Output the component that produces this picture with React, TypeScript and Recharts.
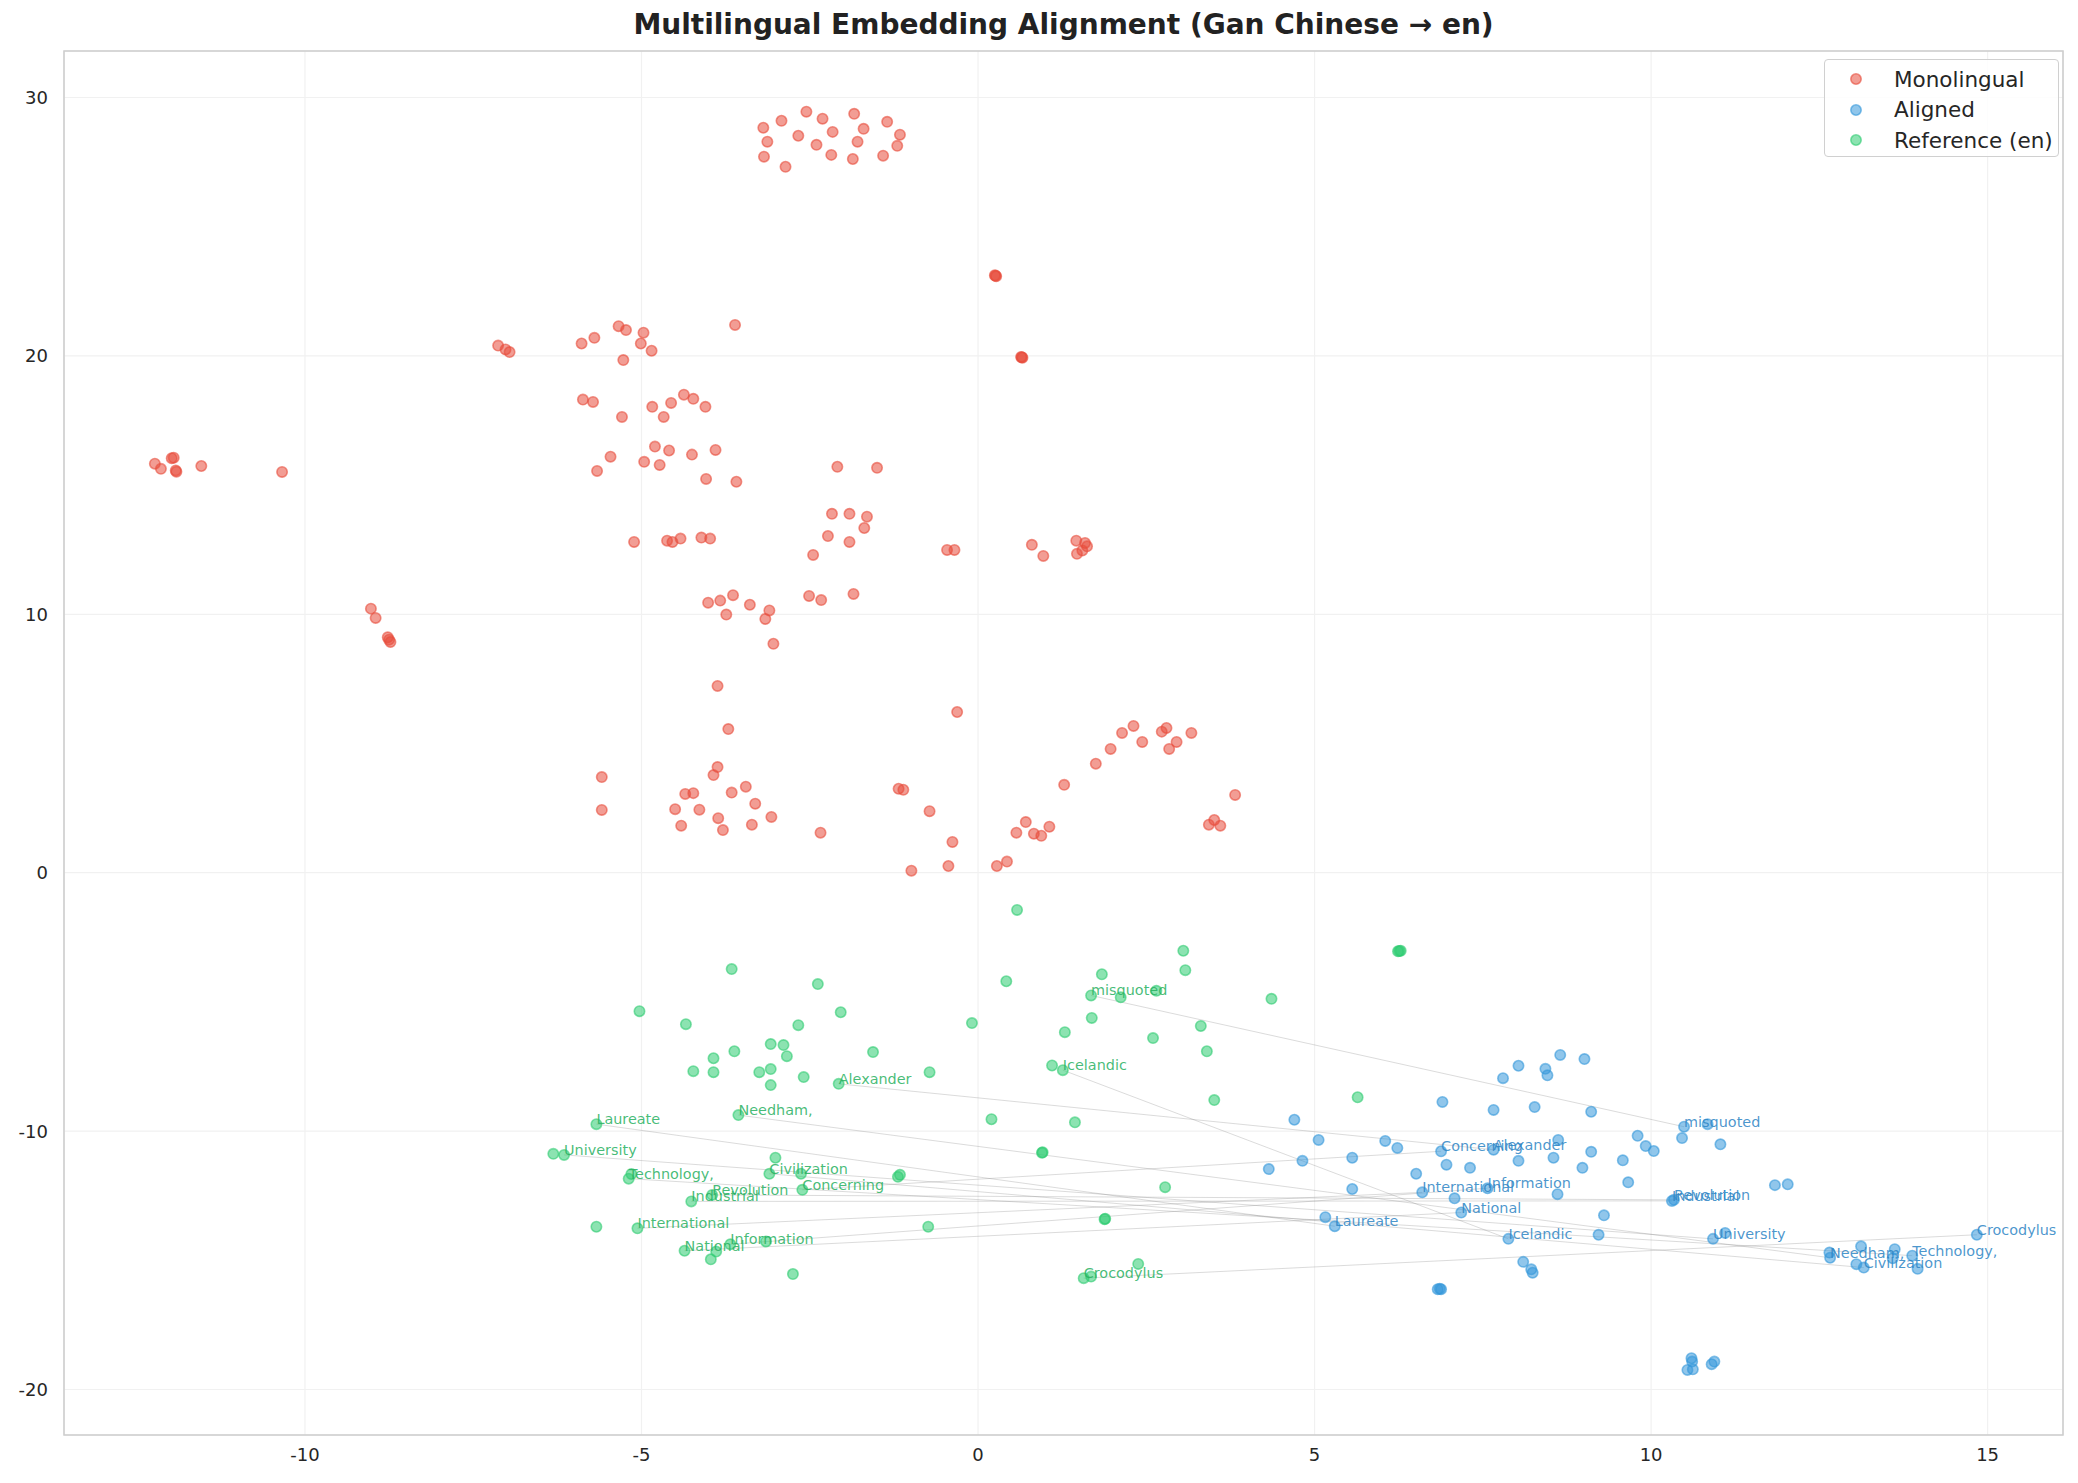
import {
  ScatterChart,
  Scatter,
  XAxis,
  YAxis,
  CartesianGrid,
  ReferenceLine,
  ReferenceArea,
  Legend,
} from 'recharts';

// Monolingual (Gan Chinese) embeddings, [x, y]
const monolingualPoints: [number, number][] = [
  [-3.19, 28.83], [-2.92, 29.1], [-2.55, 29.45], [-2.31, 29.18], [-1.84, 29.37], [-1.35, 29.06],
  [-3.13, 28.29], [-2.67, 28.52], [-2.16, 28.67], [-1.7, 28.79], [-1.16, 28.56], [-2.4, 28.17],
  [-1.79, 28.29], [-1.2, 28.13], [-3.18, 27.71], [-2.18, 27.78], [-1.86, 27.62], [-1.41, 27.75],
  [-2.86, 27.32],
  [0.26, 23.1], [0.27, 23.08], [0.25, 23.12], [0.65, 19.95], [0.66, 19.93], [0.64, 19.96],
  [-3.61, 21.2], [-7.13, 20.4], [-7.02, 20.25], [-6.96, 20.15], [-5.89, 20.48], [-5.7, 20.7],
  [-5.34, 21.15], [-5.23, 21.0], [-4.97, 20.9], [-5.01, 20.48], [-4.85, 20.2], [-5.27, 19.84],
  [-5.87, 18.31], [-5.72, 18.22], [-5.29, 17.64], [-4.84, 18.03], [-4.67, 17.64], [-4.56, 18.18],
  [-4.37, 18.5], [-4.23, 18.34], [-4.05, 18.03],
  [-4.8, 16.49], [-4.59, 16.34], [-4.25, 16.18], [-3.9, 16.36], [-5.46, 16.1], [-5.66, 15.55],
  [-4.96, 15.9], [-4.73, 15.78], [-4.04, 15.24], [-3.59, 15.13], [-2.09, 15.71], [-1.5, 15.67],
  [-12.23, 15.83], [-12.14, 15.63], [-11.98, 16.04], [-11.95, 16.06], [-11.92, 15.57], [-11.91, 15.52],
  [-11.54, 15.74], [-10.34, 15.51],
  [-2.17, 13.89], [-1.91, 13.89], [-1.65, 13.78], [-1.69, 13.34], [-2.23, 13.03], [-1.91, 12.8],
  [-2.45, 12.3], [-0.46, 12.49], [-0.35, 12.49], [0.8, 12.69], [0.97, 12.26], [1.46, 12.85],
  [1.59, 12.76], [1.62, 12.63], [1.55, 12.47], [1.47, 12.34],
  [-5.11, 12.8], [-4.62, 12.85], [-4.54, 12.8], [-4.42, 12.93], [-4.11, 12.97], [-3.98, 12.93],
  [-4.01, 10.45], [-3.83, 10.53], [-3.64, 10.74], [-3.39, 10.37], [-3.1, 10.15], [-3.16, 9.82],
  [-3.74, 9.99], [-3.04, 8.86], [-2.51, 10.71], [-2.33, 10.55], [-1.85, 10.79],
  [-9.02, 10.22], [-8.95, 9.86], [-8.77, 9.11], [-8.75, 9.02], [-8.73, 8.93],
  [-3.87, 7.23], [-3.71, 5.56], [-3.87, 4.09], [-3.93, 3.78], [-5.59, 3.7], [-5.59, 2.43],
  [-4.35, 3.05], [-4.23, 3.08], [-3.66, 3.1], [-3.45, 3.33], [-3.31, 2.67], [-4.5, 2.46],
  [-4.14, 2.44], [-3.86, 2.11], [-3.07, 2.16], [-4.41, 1.82], [-3.79, 1.65], [-3.36, 1.86],
  [-2.34, 1.55],
  [-1.18, 3.25], [-1.11, 3.21], [-0.31, 6.22], [-0.72, 2.38], [-0.38, 1.19], [-0.99, 0.08],
  [-0.44, 0.26], [0.28, 0.26], [0.43, 0.43], [0.57, 1.55], [0.71, 1.96], [0.83, 1.51],
  [0.94, 1.43], [1.06, 1.78], [1.28, 3.4], [1.75, 4.22], [1.97, 4.79],
  [2.14, 5.41], [2.31, 5.68], [2.44, 5.06], [2.73, 5.46], [2.8, 5.6], [2.95, 5.06],
  [2.84, 4.79], [3.17, 5.41], [3.82, 3.01], [3.43, 1.86], [3.51, 2.04], [3.6, 1.82],
];

// Aligned embeddings
const alignedPoints: [number, number][] = [
  [4.7, -9.56], [5.06, -10.34], [4.32, -11.47], [4.82, -11.15], [5.56, -11.03], [5.56, -12.24],
  [6.05, -10.38], [6.23, -10.65], [6.51, -11.65], [6.6, -12.37], [6.88, -10.78], [6.96, -11.3],
  [7.31, -11.42], [7.08, -12.6], [7.18, -13.15], [7.57, -12.21], [7.66, -10.72], [8.03, -11.15],
  [6.9, -8.87], [7.66, -9.18], [7.8, -7.95], [8.03, -7.47], [8.27, -9.07], [8.43, -7.59],
  [8.46, -7.84], [8.65, -7.05], [9.01, -7.21], [9.11, -9.25], [8.62, -10.34], [8.55, -11.03],
  [9.11, -10.8], [8.98, -11.42], [8.61, -12.44], [9.58, -11.13], [9.66, -11.98], [9.8, -10.18],
  [9.92, -10.58], [10.04, -10.77], [10.46, -10.27], [10.49, -9.83], [10.84, -9.73], [11.03, -10.51],
  [9.3, -13.26], [9.22, -14.01], [10.31, -12.7], [10.34, -12.66], [5.16, -13.33], [5.3, -13.68],
  [7.88, -14.17], [8.1, -15.06], [8.22, -15.35], [8.24, -15.48], [6.83, -16.12], [6.88, -16.12],
  [6.86, -16.1],
  [11.84, -12.09], [12.03, -12.06], [10.92, -14.17], [11.1, -13.94], [14.84, -14.01], [12.65, -14.7],
  [12.66, -14.9], [13.12, -14.46], [13.62, -14.57], [13.59, -14.92], [13.88, -14.82], [13.05, -15.15],
  [13.16, -15.28], [13.96, -15.33],
  [10.6, -18.79], [10.61, -18.92], [10.54, -19.24], [10.62, -19.22], [10.94, -18.92], [10.9, -19.02],
];

// Reference (en) embeddings
const referencePoints: [number, number][] = [
  [0.58, -1.44], [-3.66, -3.73], [-2.38, -4.31], [-5.03, -5.36], [-4.34, -5.86], [-2.67, -5.9],
  [-2.04, -5.4], [-3.62, -6.91], [-3.93, -7.18], [-4.23, -7.68], [-3.93, -7.72], [-3.08, -6.63],
  [-2.89, -6.67], [-2.84, -7.1], [-3.25, -7.72], [-3.08, -7.6], [-3.08, -8.22], [-2.59, -7.91],
  [-1.56, -6.94], [-2.07, -8.17], [-0.72, -7.72], [-0.09, -5.82], [0.42, -4.2], [1.84, -3.93],
  [1.68, -4.75], [2.12, -4.82], [2.65, -4.57], [3.05, -3.02], [3.08, -3.77], [4.36, -4.88],
  [1.69, -5.62], [1.29, -6.17], [3.31, -5.93], [2.6, -6.4], [3.4, -6.91], [1.1, -7.46],
  [1.26, -7.64], [3.51, -8.8], [0.2, -9.54], [1.44, -9.66], [-3.56, -9.38], [-5.67, -9.73],
  [0.95, -10.84], [0.96, -10.82], [-6.31, -10.88], [-6.15, -10.92], [-3.01, -11.03], [-3.1, -11.65],
  [-2.63, -11.65], [-2.61, -12.27], [-1.19, -11.77], [-1.16, -11.69], [-5.19, -11.84], [-5.15, -11.66],
  [-3.95, -12.47], [-4.26, -12.72], [2.78, -12.17], [1.88, -13.41], [1.89, -13.39], [-5.67, -13.7],
  [-5.06, -13.76], [-0.74, -13.7], [-3.15, -14.27], [-3.68, -14.38], [-4.36, -14.63], [-3.89, -14.66],
  [-3.97, -14.96], [-2.75, -15.53], [2.38, -15.14], [1.57, -15.69], [1.68, -15.63],
  [6.26, -3.03], [6.28, -3.02], [6.24, -3.04], [5.64, -8.69],
];

// annotated word pairs
const labelWords = [
  'misquoted', 'Alexander', 'Icelandic', 'Needham,', 'Laureate', 'University', 'Technology,',
  'Civilization', 'Concerning', 'Revolution', 'Industrial', 'International', 'Information',
  'National', 'Crocodylus',
];
const referenceLabelPos: [number, number][] = [
  [1.68, -4.75], [-2.07, -8.17], [1.26, -7.64], [-3.56, -9.38], [-5.67, -9.73], [-6.15, -10.92],
  [-5.19, -11.84], [-3.1, -11.65], [-2.61, -12.27], [-3.95, -12.47], [-4.26, -12.72], [-5.06, -13.76],
  [-3.68, -14.38], [-4.36, -14.63], [1.57, -15.69],
];
const alignedLabelPos: [number, number][] = [
  [10.49, -9.83], [7.66, -10.72], [7.88, -14.17], [12.66, -14.9], [5.3, -13.68], [10.92, -14.17],
  [13.88, -14.82], [13.16, -15.28], [6.88, -10.78], [10.34, -12.66], [10.31, -12.7], [6.6, -12.37],
  [7.57, -12.21], [7.18, -13.15], [14.84, -14.01],
];

const xTicks = [-10, -5, 0, 5, 10, 15];
const yTicks = [-20, -10, 0, 10, 20, 30];

const X_DOMAIN: [number, number] = [-13.58, 16.12];
const Y_DOMAIN: [number, number] = [-21.76, 31.8];

const RED = '#e74c3c';
const BLUE = '#3498db';
const GREEN = '#2ecc71';
const FONT = '"DejaVu Sans", Verdana, sans-serif';

const toXY = (pts: [number, number][]) => pts.map(([x, y]) => ({ x, y }));

const dot = (color: string) => (props: any) => (
  <circle
    cx={props.cx}
    cy={props.cy}
    r={5.2}
    fill={color}
    fillOpacity={0.55}
    stroke={color}
    strokeOpacity={0.6}
    strokeWidth={1.6}
  />
);

const labelShape = (color: string) => (props: any) => (
  <text
    x={props.cx}
    y={props.cy}
    fill={color}
    fillOpacity={0.85}
    fontSize={14.4}
    fontFamily={FONT}
  >
    {props.payload.label}
  </text>
);

const legendItems = [
  { name: 'Monolingual', color: RED },
  { name: 'Aligned', color: BLUE },
  { name: 'Reference (en)', color: GREEN },
];

const renderLegend = () => (
  <div
    style={{
      boxSizing: 'border-box',
      width: 235,
      height: 98,
      border: '1.5px solid #d0d0d0',
      borderRadius: 4,
      background: 'rgba(255,255,255,0.85)',
      paddingTop: 4,
      fontFamily: FONT,
    }}
  >
    {legendItems.map((item) => (
      <div key={item.name} style={{ display: 'flex', alignItems: 'center', height: 30.5 }}>
        <svg width={24} height={14} style={{ marginLeft: 19, marginRight: 26 }}>
          <circle cx={12} cy={7} r={5.2} fill={item.color} fillOpacity={0.55}
            stroke={item.color} strokeOpacity={0.6} strokeWidth={1.6} />
        </svg>
        <span style={{ fontSize: 21.5, color: '#262626' }}>{item.name}</span>
      </div>
    ))}
  </div>
);

export default function App() {
  const refLabels = referenceLabelPos.map(([x, y], i) => ({ x, y, label: labelWords[i] }));
  const alignedLabels = alignedLabelPos.map(([x, y], i) => ({ x, y, label: labelWords[i] }));

  return (
    <div style={{ position: 'absolute', left: 0, top: 0, width: 2078, height: 1483, background: '#fff' }}>
      <div
        style={{
          position: 'absolute',
          left: 64,
          width: 1999,
          top: 8,
          textAlign: 'center',
          fontFamily: FONT,
          fontWeight: 'bold',
          fontSize: 28,
          color: '#222',
        }}
      >
        Multilingual Embedding Alignment (Gan Chinese → en)
      </div>
      <ScatterChart width={2078} height={1483} margin={{ top: 51, right: 15, bottom: 8, left: 0 }}>
        <CartesianGrid stroke="#f1f1f1" strokeWidth={1.2} />
        <XAxis
          type="number"
          dataKey="x"
          domain={X_DOMAIN}
          ticks={xTicks}
          allowDataOverflow
          height={40}
          axisLine={false}
          tickLine={false}
          tickSize={6}
          tickMargin={7}
          tick={{ fontSize: 18, fill: '#262626', fontFamily: FONT }}
        />
        <YAxis
          type="number"
          dataKey="y"
          domain={Y_DOMAIN}
          ticks={yTicks}
          allowDataOverflow
          width={64}
          axisLine={false}
          tickLine={false}
          tickSize={6}
          tickMargin={10}
          tick={{ fontSize: 18, fill: '#262626', fontFamily: FONT }}
        />
        <ReferenceArea
          x1={X_DOMAIN[0]}
          x2={X_DOMAIN[1]}
          y1={Y_DOMAIN[0]}
          y2={Y_DOMAIN[1]}
          fill="none"
          stroke="#cccccc"
          strokeWidth={1.5}
        />
        {referenceLabelPos.map(([x1, y1], i) => (
          <ReferenceLine
            key={`link-${i}`}
            segment={[
              { x: x1, y: y1 },
              { x: alignedLabelPos[i][0], y: alignedLabelPos[i][1] },
            ]}
            stroke="#888"
            strokeOpacity={0.3}
            strokeWidth={1}
          />
        ))}
        <Scatter name="Monolingual" data={toXY(monolingualPoints)} shape={dot(RED)} isAnimationActive={false} />
        <Scatter name="Aligned" data={toXY(alignedPoints)} shape={dot(BLUE)} isAnimationActive={false} />
        <Scatter name="Reference (en)" data={toXY(referencePoints)} shape={dot(GREEN)} isAnimationActive={false} />
        <Scatter data={refLabels} shape={labelShape('#27b060')} isAnimationActive={false} legendType="none" />
        <Scatter data={alignedLabels} shape={labelShape('#2c84c4')} isAnimationActive={false} legendType="none" />
        <Legend
          layout="horizontal"
          verticalAlign="middle"
          align="center"
          content={renderLegend}
          wrapperStyle={{ left: 1824, top: 59, width: 235, height: 98 }}
        />
      </ScatterChart>
    </div>
  );
}
